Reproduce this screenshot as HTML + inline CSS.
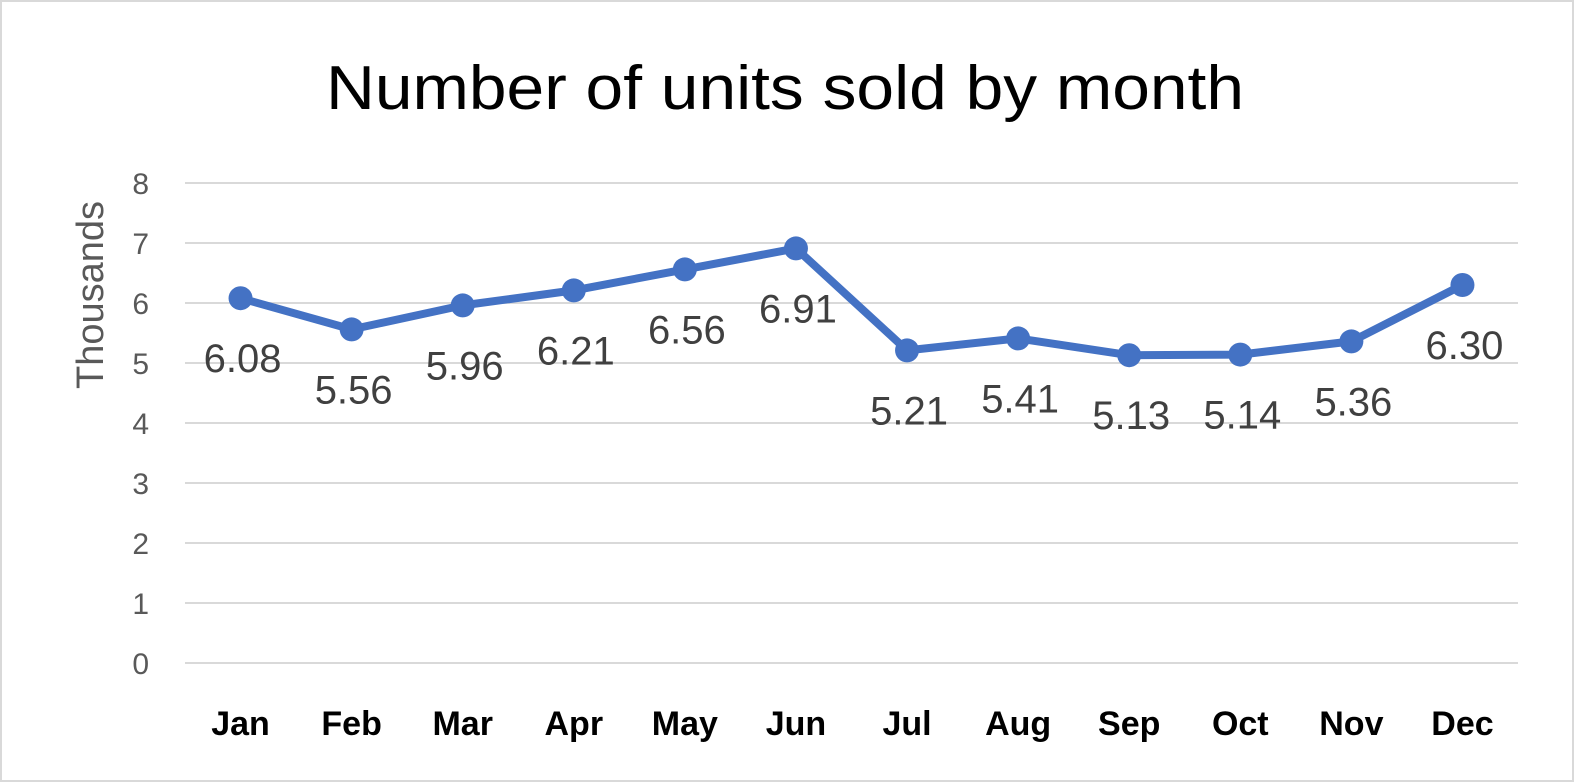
<!DOCTYPE html>
<html><head><meta charset="utf-8"><style>
html,body{margin:0;padding:0;background:#fff;}
svg{display:block;font-family:"Liberation Sans",Calibri,sans-serif;}
</style></head><body>
<svg id="chart" width="1575" height="783" viewBox="0 0 1575 783">
<rect x="1" y="1" width="1572" height="780" fill="#fff" stroke="#d9d9d9" stroke-width="2"/>
<text x="785" y="109" font-size="62" text-anchor="middle" textLength="918" lengthAdjust="spacingAndGlyphs" fill="#000">Number of units sold by month</text>
<text transform="translate(103,295) rotate(-90)" font-size="38" text-anchor="middle" fill="#595959">Thousands</text>
<g id="grid"></g><g id="yticks"></g><g id="xticks"></g><g id="series"></g><g id="labels"></g>
</svg>
<script>
const months = ["Jan","Feb","Mar","Apr","May","Jun","Jul","Aug","Sep","Oct","Nov","Dec"];
const units = [6.08,5.56,5.96,6.21,6.56,6.91,5.21,5.41,5.13,5.14,5.36,6.30];
const yTicks = [0,1,2,3,4,5,6,7,8];
const NS="http://www.w3.org/2000/svg";
const x0=185,x1=1518,yBase=663,pxPerUnit=60;
const xs=i=>x0+(i+0.5)*(x1-x0)/months.length;
const ys=v=>yBase-v*pxPerUnit;
function mk(t,a,p){const e=document.createElementNS(NS,t);for(const k in a)e.setAttribute(k,a[k]);p.appendChild(e);return e;}
const grid=document.getElementById('grid'),yt=document.getElementById('yticks'),xt=document.getElementById('xticks'),se=document.getElementById('series'),lb=document.getElementById('labels');
yTicks.forEach(v=>{
 const l=mk('line',{x1:x0,x2:x1,y1:ys(v),y2:ys(v),stroke:'#d9d9d9','stroke-width':2},grid);
 
 
 const t=mk('text',{x:149,y:ys(v)+11,'font-size':30,'text-anchor':'end',fill:'#595959'},yt);
 t.textContent=v;
 
 
});
months.forEach((m,i)=>{
 const t=mk('text',{x:xs(i),y:735,'font-size':34,'font-weight':'bold','text-anchor':'middle',fill:'#000'},xt);
 t.textContent=m;
 
 
});
const pl=mk('polyline',{points:units.map((v,i)=>xs(i)+','+ys(v)).join(' '),fill:'none',stroke:'#4472c4','stroke-width':8,'stroke-linejoin':'round'},se);


units.forEach((v,i)=>{
 const c=mk('circle',{cx:xs(i),cy:ys(v),r:12,fill:'#4472c4'},se);
 
 
 const t=mk('text',{x:xs(i)+2,y:ys(v)+74,'font-size':40,'text-anchor':'middle',fill:'#404040'},lb);
 t.textContent=v.toFixed(2);
 
 
});
</script>
</body></html>
